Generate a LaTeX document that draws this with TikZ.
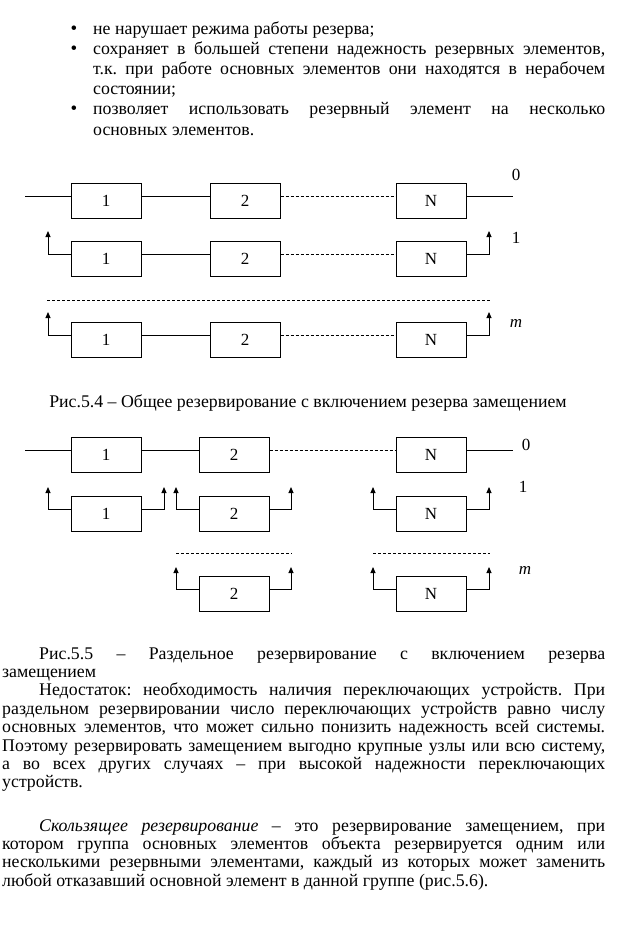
\documentclass[tikz,border=0pt]{standalone}
\usepackage{fontspec}
\setmainfont{Liberation Serif}
\usetikzlibrary{arrows.meta}

\tikzset{
  elem/.style={draw, line width=1pt, minimum width=70pt, minimum height=35pt,
    inner sep=0pt, font=\fontsize{17}{17}\selectfont},
  wire/.style={line width=0.9pt},
  dots/.style={line width=0.9pt, dash pattern=on 3pt off 2pt},
  up/.style={line width=0.9pt, -{Triangle[width=5pt,length=6pt]}},
  lbl/.style={inner sep=0pt, font=\fontsize{17}{17}\selectfont},
  txt/.style={inner sep=0pt, anchor=base west, align=justify,
    font=\fontsize{17.8}{18.4}\selectfont\frenchspacing},
  blt/.style={txt, font=\fontsize{17.8}{20.2}\selectfont\frenchspacing}
}
\newcommand{\ind}{\hspace*{37pt}}

\begin{document}
\begin{tikzpicture}[x=1pt, y=-1pt]
  \useasboundingbox (0,0) rectangle (632,926);

  % list above
  \node[inner sep=0pt, anchor=base, font=\fontsize{19}{19}\selectfont] (d1) at (74,34) {\textbullet};
  \node[inner sep=0pt, anchor=base, font=\fontsize{19}{19}\selectfont] (d2) at (74,54.2) {\textbullet};
  \node[inner sep=0pt, anchor=base, font=\fontsize{19}{19}\selectfont] (d3) at (74,114.8) {\textbullet};
  \node[blt, text width=512pt] (t1) at (93,34) {не нарушает режима работы резерва;};
  \node[blt, text width=512pt] (t2) at (93,54.2) {сохраняет в большей степени надежность резервных элементов,\linebreak
    т.к. при работе основных элементов они находятся в нерабочем\linebreak
    состоянии;};
  \node[blt, text width=512pt] (t3) at (93,114.8) {позволяет использовать резервный элемент на несколько\linebreak
    основных элементов.};

  % fig 5.4
  \node[elem] (a1) at (106,201) {1};
  \node[elem] (a2) at (245,201) {2};
  \node[elem] (aN) at (431,201) {N};
  \coordinate (ai) at (25,196);
  \coordinate (ao) at (513,196);
  \draw[wire] (ai) -- ([yshift=5pt]a1.west);
  \draw[wire] ([yshift=5pt]a1.east) -- ([yshift=5pt]a2.west);
  \draw[dots] ([yshift=5pt]a2.east) -- ([yshift=5pt]aN.west);
  \draw[wire] ([yshift=5pt]aN.east) -- (ao);

  \node[elem] (b1) at (106,259) {1};
  \node[elem] (b2) at (245,259) {2};
  \node[elem] (bN) at (431,259) {N};
  \coordinate (bl) at (48,231);
  \coordinate (br) at (489,231);
  \draw[up] ([yshift=5pt]b1.west) -| (bl);
  \draw[wire] ([yshift=5pt]b1.east) -- ([yshift=5pt]b2.west);
  \draw[dots] ([yshift=5pt]b2.east) -- ([yshift=5pt]bN.west);
  \draw[up] ([yshift=5pt]bN.east) -| (br);

  \coordinate (s1) at (47,300);
  \coordinate (s2) at (490,300);
  \draw[dots] (s1) -- (s2);

  \node[elem] (c1) at (106,340) {1};
  \node[elem] (c2) at (245,340) {2};
  \node[elem] (cN) at (431,340) {N};
  \coordinate (cl) at (48,312);
  \coordinate (cr) at (489,312);
  \draw[up] ([yshift=5pt]c1.west) -| (cl);
  \draw[wire] ([yshift=5pt]c1.east) -- ([yshift=5pt]c2.west);
  \draw[dots] ([yshift=5pt]c2.east) -- ([yshift=5pt]cN.west);
  \draw[up] ([yshift=5pt]cN.east) -| (cr);

  \node[lbl] (n0) at (516,175) {0};
  \node[lbl] (n1) at (516,238) {1};
  \node[lbl] (nm) at (516,323) {\textit{m}};

  \node[inner sep=0pt, anchor=base, font=\fontsize{17.8}{18.4}\selectfont] (cap4) at (308,407)
    {Рис.5.4 – Общее резервирование с включением резерва замещением};

  % fig 5.5
  \node[elem] (e1) at (106,455) {1};
  \node[elem] (e2) at (234,455) {2};
  \node[elem] (eN) at (431,455) {N};
  \coordinate (ei) at (25,450);
  \coordinate (eo) at (513,450);
  \draw[wire] (ei) -- ([yshift=5pt]e1.west);
  \draw[wire] ([yshift=5pt]e1.east) -- ([yshift=5pt]e2.west);
  \draw[dots] ([yshift=5pt]e2.east) -- ([yshift=5pt]eN.west);
  \draw[wire] ([yshift=5pt]eN.east) -- (eo);

  \node[elem] (f1) at (106,514) {1};
  \node[elem] (f2) at (234,514) {2};
  \node[elem] (fN) at (431,514) {N};
  \coordinate (f1l) at (48,487);
  \coordinate (f1r) at (164,487);
  \coordinate (f2l) at (176,487);
  \coordinate (f2r) at (291,487);
  \coordinate (fNl) at (373,487);
  \coordinate (fNr) at (489,487);
  \draw[up] ([yshift=5pt]f1.west) -| (f1l);
  \draw[up] ([yshift=5pt]f1.east) -| (f1r);
  \draw[up] ([yshift=5pt]f2.west) -| (f2l);
  \draw[up] ([yshift=5pt]f2.east) -| (f2r);
  \draw[up] ([yshift=5pt]fN.west) -| (fNl);
  \draw[up] ([yshift=5pt]fN.east) -| (fNr);

  \coordinate (r1) at (176,553);
  \coordinate (r2) at (292,553);
  \coordinate (r3) at (373,553);
  \coordinate (r4) at (490,553);
  \draw[dots] (r1) -- (r2);
  \draw[dots] (r3) -- (r4);

  \node[elem] (g2) at (234,594) {2};
  \node[elem] (gN) at (431,594) {N};
  \coordinate (g2l) at (176,567);
  \coordinate (g2r) at (291,567);
  \coordinate (gNl) at (373,567);
  \coordinate (gNr) at (489,567);
  \draw[up] ([yshift=5pt]g2.west) -| (g2l);
  \draw[up] ([yshift=5pt]g2.east) -| (g2r);
  \draw[up] ([yshift=5pt]gN.west) -| (gNl);
  \draw[up] ([yshift=5pt]gN.east) -| (gNr);

  \node[lbl] (m0) at (526,445) {0};
  \node[lbl] (m1) at (523,487) {1};
  \node[lbl] (mm) at (525,570) {\textit{m}};

  % text below
  \node[txt, text width=603pt] (p1) at (2,659) {\ind Рис.5.5 – Раздельное резервирование с включением резерва\linebreak
    замещением\par
    \ind Недостаток: необходимость наличия переключающих устройств. При\linebreak
    раздельном резервировании число переключающих устройств равно числу\linebreak
    основных элементов, что может сильно понизить надежность всей системы.\linebreak
    Поэтому резервировать замещением выгодно крупные узлы или всю систему,\linebreak
    а во всех других случаях – при высокой надежности переключающих\linebreak
    устройств.};
  \node[txt, text width=603pt] (p2) at (2,831) {\ind\textit{Скользящее резервирование} – это резервирование замещением, при\linebreak
    котором группа основных элементов объекта резервируется одним или\linebreak
    несколькими резервными элементами, каждый из которых может заменить\linebreak
    любой отказавший основной элемент в данной группе (рис.5.6).};
\end{tikzpicture}
\end{document}
